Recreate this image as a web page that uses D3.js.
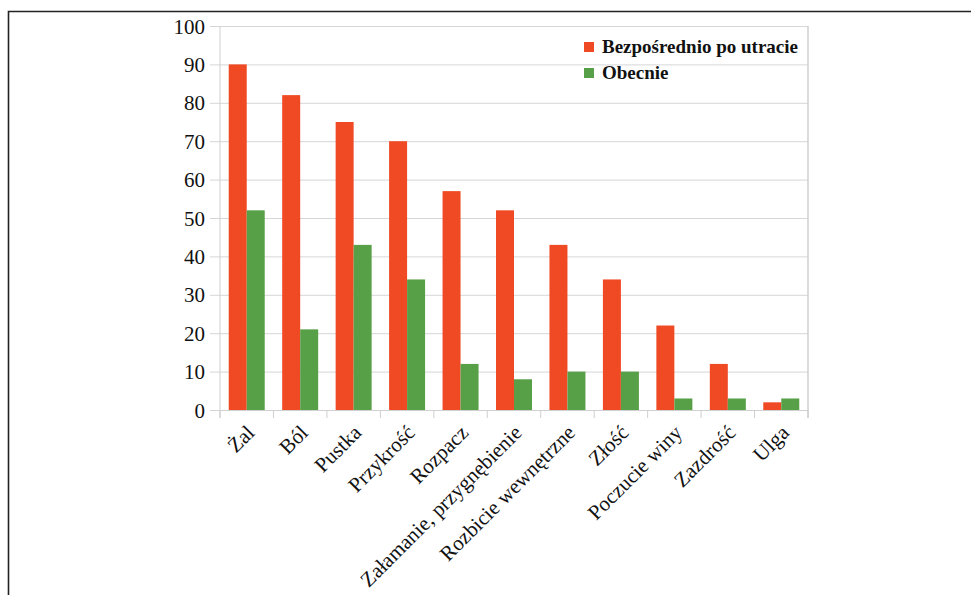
<!DOCTYPE html>
<html>
<head>
<meta charset="utf-8">
<script src="https://cdn.jsdelivr.net/npm/d3@7"></script>
<style>
  html, body { margin: 0; padding: 0; background: #fff; }
  svg { display: block; }
  svg text { font-family: "Liberation Serif", "Times New Roman", "DejaVu Serif", serif; }
</style>
</head>
<body>
<svg id="chart" width="971" height="595"></svg>
<script>
// Emotions named after a loss: share of respondents (%)
const categories = ["Żal", "Ból", "Pustka", "Przykrość", "Rozpacz",
  "Załamanie, przygnębienie", "Rozbicie wewnętrzne", "Złość",
  "Poczucie winy", "Zazdrość", "Ulga"];
const seriesNames = ["Bezpośrednio po utracie", "Obecnie"];
const afterLoss = [90, 82, 75, 70, 57, 52, 43, 34, 22, 12, 2];
const now = [52, 21, 43, 34, 12, 8, 10, 10, 3, 3, 3];
const yTicks = [0, 10, 20, 30, 40, 50, 60, 70, 80, 90, 100];
const colors = ["#F04A24", "#58A047"];

const svg = d3.select("#chart");

const plot = { left: 220, right: 808, top: 26, bottom: 410 };

// frame around the figure
svg.append("path")
  .attr("d", "M8.5,600 V11.5 H971")
  .attr("fill", "none").attr("stroke", "#222").attr("stroke-width", 1.6);

const y = d3.scaleLinear().domain([0, 100]).range([plot.bottom, plot.top]);
const x0 = d3.scaleBand().domain(categories).range([plot.left, plot.right]);
const x1 = d3.scaleBand().domain(seriesNames).range([0, x0.bandwidth()])
  .paddingInner(0).paddingOuter(0.485);

// horizontal grid with left tick stubs
const yAxis = d3.axisLeft(y).tickValues(yTicks)
  .tickSize(plot.right - plot.left + 10).tickPadding(5).tickFormat(d3.format("d"));
const gy = svg.append("g").attr("transform", `translate(${plot.right},0)`).call(yAxis);
gy.attr("font-family", null);
gy.select(".domain").remove();
gy.selectAll(".tick line").attr("stroke", "#d6d6d6").attr("stroke-width", 1);
gy.selectAll(".tick text")
  .attr("font-size", 21).attr("fill", "#111")
  .attr("dy", "0.34em");

// plot area borders: left axis and right edge
svg.append("line").attr("x1", plot.left).attr("x2", plot.left)
  .attr("y1", plot.top).attr("y2", plot.bottom + 8)
  .attr("stroke", "#cfcfcf").attr("stroke-width", 1);
svg.append("line").attr("x1", plot.right).attr("x2", plot.right)
  .attr("y1", plot.top).attr("y2", plot.bottom + 8)
  .attr("stroke", "#cfcfcf").attr("stroke-width", 1.5);

// bars
const rows = categories.map((c, i) => ({ cat: c, vals: [afterLoss[i], now[i]] }));
const groups = svg.append("g").selectAll("g").data(rows).join("g")
  .attr("transform", d => `translate(${x0(d.cat)},0)`);
groups.selectAll("rect")
  .data(d => d.vals.map((v, k) => ({ key: seriesNames[k], v, k })))
  .join("rect")
  .attr("x", d => x1(d.key))
  .attr("width", x1.bandwidth())
  .attr("y", d => y(d.v))
  .attr("height", d => y(0) - y(d.v))
  .attr("fill", d => colors[d.k]);

// x axis: baseline plus category boundary ticks
const xAxis = d3.axisBottom(x0).tickSize(0).tickFormat("");
const gx = svg.append("g").attr("transform", `translate(0,${plot.bottom})`).call(xAxis);
gx.select(".domain").attr("stroke", "#d0d0d0");
const bounds = categories.map(c => x0(c)).concat([plot.right]);
svg.append("g").selectAll("line").data(bounds).join("line")
  .attr("x1", d => d).attr("x2", d => d)
  .attr("y1", plot.bottom).attr("y2", plot.bottom + 8)
  .attr("stroke", "#cfcfcf").attr("stroke-width", 1);

// rotated category labels
svg.append("g").selectAll("text").data(categories).join("text")
  .attr("transform", d => `translate(${x0(d) + x0.bandwidth() / 2 + 9},${plot.bottom + 24}) rotate(-45)`)
  .attr("text-anchor", "end")
  .attr("font-size", 21).attr("fill", "#111")
  .text(d => d);

// legend
const legend = svg.append("g").attr("transform", "translate(584,42)");
seriesNames.forEach((name, i) => {
  const g = legend.append("g").attr("transform", `translate(0,${i * 26})`);
  g.append("rect").attr("width", 10).attr("height", 10).attr("fill", colors[i]);
  g.append("text").attr("x", 18).attr("y", 11)
    .attr("font-size", 19).attr("font-weight", "bold")
    .attr("fill", "#111").text(name);
});
</script>
</body>
</html>
